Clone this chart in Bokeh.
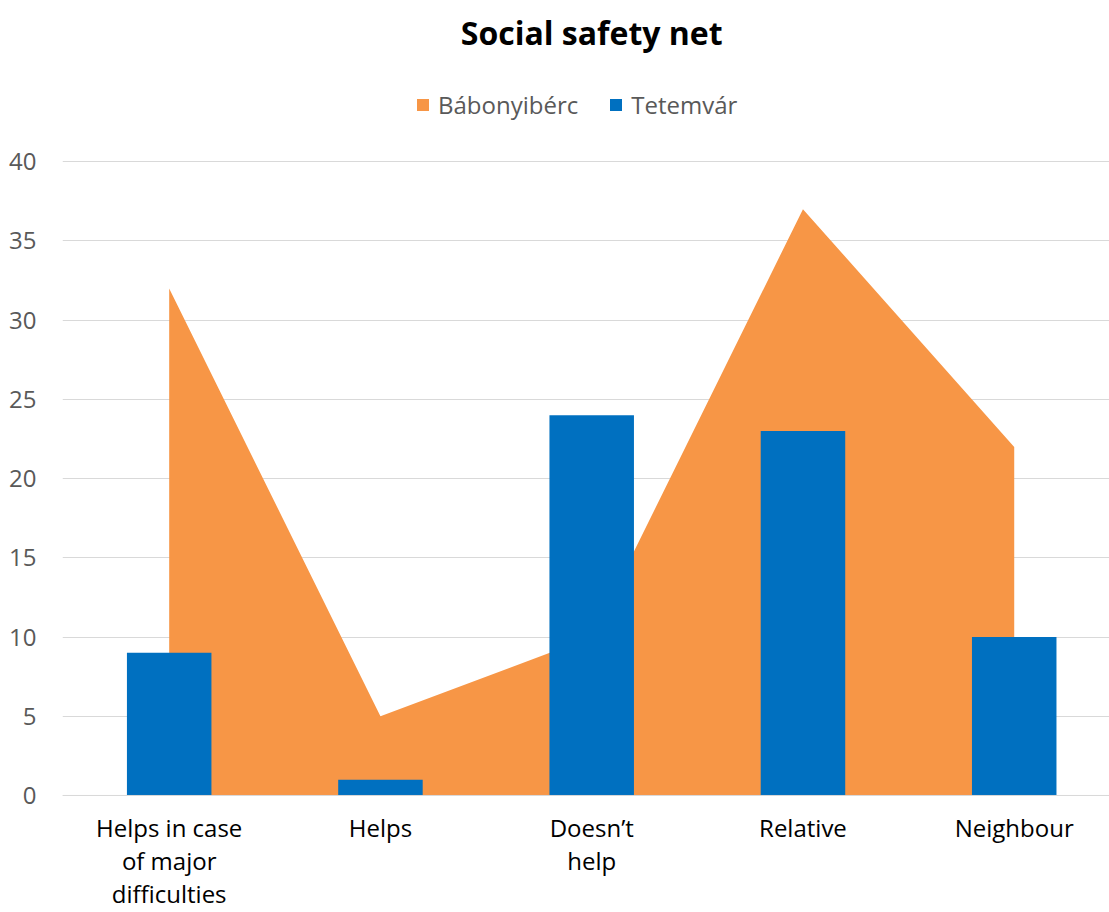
from bokeh.plotting import figure
from bokeh.models import FixedTicker, Legend, LegendItem, Span, Label
from bokeh.embed import file_html
from bokeh.resources import INLINE

# Data
categories = ["Helps in case\nof major\ndifficulties", "Helps", "Doesn\u2019t\nhelp", "Relative", "Neighbour"]
babonyiberc = [32, 5, 10, 37, 22]
tetemvar = [9, 1, 24, 23, 10]
y_ticks = [0, 5, 10, 15, 20, 25, 30, 35, 40]

ORANGE = "#F79646"
BLUE = "#0070C0"
GRID = "#D9D9D9"
FONT = "Open Sans"

xs = list(range(len(categories)))

# The frame reaches the top of the page; title and legend sit above the 40 line.
p = figure(width=1109, height=912, output_backend="svg", toolbar_location=None,
           x_range=(-0.505, 4.451), y_range=(-0.569, 50.17),
           min_border_left=62, min_border_right=0, min_border_top=0, min_border_bottom=100)
p.outline_line_color = None
p.background_fill_color = "white"

area = p.varea(x=xs, y1=[0] * len(xs), y2=babonyiberc, fill_color=ORANGE)
bars = p.vbar(x=xs, top=tetemvar, width=0.40, bottom=0, fill_color=BLUE, line_color=None)

p.add_layout(Span(location=0, dimension="width", line_color=GRID, line_width=1))

# Axes
p.xaxis.ticker = FixedTicker(ticks=xs)
p.xaxis.major_label_overrides = {i: c for i, c in enumerate(categories)}
p.xaxis.axis_line_color = None
p.xaxis.major_tick_line_color = None
p.xaxis.minor_tick_line_color = None
p.xaxis.major_label_text_font = FONT
p.xaxis.major_label_text_font_size = "24px"
p.xaxis.major_label_text_color = "#000000"
p.xaxis.major_label_standoff = 0
p.xaxis.major_label_text_line_height = 1.0

p.yaxis.ticker = FixedTicker(ticks=y_ticks)
p.yaxis.axis_line_color = None
p.yaxis.major_tick_line_color = None
p.yaxis.minor_tick_line_color = None
p.yaxis.major_label_text_font = FONT
p.yaxis.major_label_text_font_size = "24px"
p.yaxis.major_label_text_color = "#595959"
p.yaxis.major_label_standoff = 20

p.xgrid.grid_line_color = None
p.ygrid.grid_line_color = GRID
p.ygrid.grid_line_width = 1

# Legend
legend = Legend(items=[LegendItem(label="Bábonyibérc", renderers=[area]),
                       LegendItem(label="Tetemvár", renderers=[bars])],
                orientation="horizontal", location=(353, 683),
                label_text_font=FONT, label_text_font_size="24px", label_text_color="#595959",
                glyph_width=15, glyph_height=15, spacing=30, label_standoff=8,
                border_line_color=None, background_fill_alpha=0, padding=0, margin=0)
p.add_layout(legend)

# Title
p.add_layout(Label(x=2, y=48.15, text="Social safety net", text_align="center",
                   text_baseline="middle", text_font=FONT, text_font_size="32px",
                   text_font_style="bold", text_color="#000000"))

open("out.html", "w").write(file_html(p, INLINE))
